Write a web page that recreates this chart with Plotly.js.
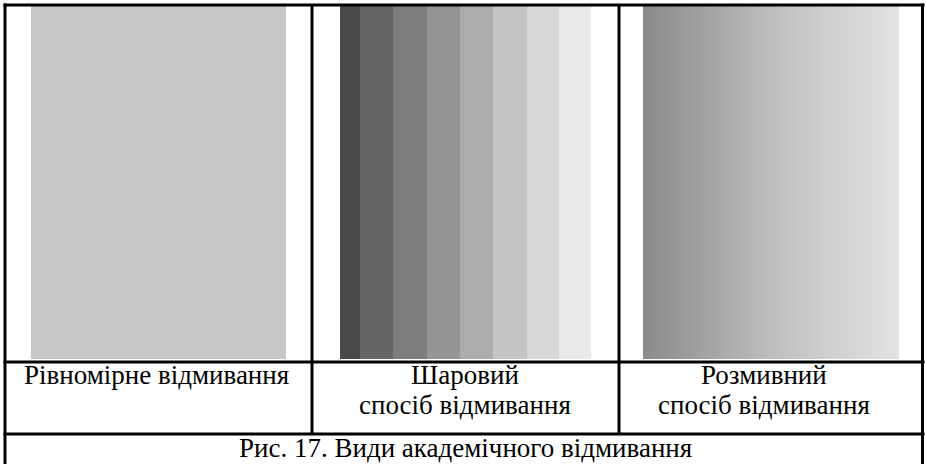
<!DOCTYPE html>
<html>
<head>
<meta charset="utf-8">
<script src="https://cdn.plot.ly/plotly-3.0.1.min.js"></script>
<style>html,body{margin:0;padding:0;background:#fff;}#chart{width:926px;height:464px;}</style>
</head>
<body>
<div id="chart"></div>
<script>
// ---- data ----
// panel titles (one entry per text line)
var panelLabels = [["Рівномірне відмивання"], ["Шаровий", "спосіб відмивання"], ["Розмивний", "спосіб відмивання"]];
var caption = "Рис. 17. Види академічного відмивання";
// uniform wash: one tone (grey level 0-255)
var uniformTone = [200];
// layered wash: tone of each layer, left (darkest) to right
var layerTones = [74, 101, 125, 148, 172, 196, 216, 233];
// layer boundaries (in layer units, first layer narrower)
var layerEdges = [0, 0.6, 1.6, 2.6, 3.6, 4.6, 5.6, 6.58, 7.53];
// graded wash: tone sampled at relative positions across the panel
var gradePos = [0, 0.22, 0.48, 0.74, 1];
var gradeTones = [139, 160, 188, 208, 226];

// ---- helpers (pixel -> paper) ----
var W = 926, H = 464;
function px(x){ return x / W; }
function py(y){ return 1 - y / H; }

var gray = [[0, 'rgb(0,0,0)'], [1, 'rgb(255,255,255)']];
function hm(extra){
  return Object.assign({type: 'heatmap', colorscale: gray, zmin: 0, zmax: 255, showscale: false, hoverinfo: 'skip', yaxis: 'y'}, extra);
}

var traces = [
  hm({z: [uniformTone], x: [0, 1], y: [0, 1], xaxis: 'x'}),
  hm({z: [layerTones], x: layerEdges, y: [0, 1], xaxis: 'x2'}),
  hm({z: [gradeTones, gradeTones], x: gradePos, y: [0, 1], zsmooth: 'best', xaxis: 'x3'})
];

function ax(dom, rng){
  return {domain: dom, range: rng, showgrid: false, zeroline: false, showticklabels: false, ticks: '', showline: false, fixedrange: true, anchor: 'y'};
}

var yTop = 6, yBot = 359;
var layout = {
  width: W, height: H,
  margin: {l: 0, r: 0, t: 0, b: 0},
  font: {family: 'Liberation Serif', size: 27, color: '#000000'},
  paper_bgcolor: '#ffffff', plot_bgcolor: 'rgba(0,0,0,0)',
  showlegend: false,
  xaxis: ax([px(31), px(286)], [0, 1]),
  xaxis2: ax([px(340), px(591)], [layerEdges[0], layerEdges[layerEdges.length-1]]),
  xaxis3: ax([px(643), px(899)], [0, 1]),
  yaxis: {domain: [py(yBot), py(yTop)], range: [0, 1], showgrid: false, zeroline: false, showticklabels: false, ticks: '', showline: false, fixedrange: true, anchor: 'x'},
  shapes: [],
  annotations: []
};

var lw = 3;
function hline(y, x0, x1){ layout.shapes.push({type: 'line', xref: 'paper', yref: 'paper', x0: px(x0), x1: px(x1), y0: py(y), y1: py(y), line: {color: '#000', width: lw}}); }
function vline(x, y0, y1){ layout.shapes.push({type: 'line', xref: 'paper', yref: 'paper', x0: px(x), x1: px(x), y0: py(y0), y1: py(y1), line: {color: '#000', width: lw}}); }

hline(5, 3.5, 924.5);
hline(362, 3.5, 924.5);
hline(434, 3.5, 924.5);
vline(5, 3.5, 470);
vline(922.5, 3.5, 470);
vline(312, 5, 434);
vline(619, 5, 434);

function mkFont(){ return {family: 'Liberation Serif', size: 27, color: '#000000'}; }
var cellCenters = [156.5, 465, 764];
panelLabels.forEach(function(lines, i){
  lines.forEach(function(t, j){
    layout.annotations.push({text: t, xref: 'paper', yref: 'paper', x: px(cellCenters[i]), y: py(375 + 30 * j), xanchor: 'center', yanchor: 'middle', showarrow: false, font: mkFont()});
  });
});
layout.annotations.push({text: caption, xref: 'paper', yref: 'paper', x: px(465), y: py(448), xanchor: 'center', yanchor: 'middle', showarrow: false, font: mkFont()});

Plotly.newPlot('chart', traces, layout, {staticPlot: true, displayModeBar: false});
</script>
</body>
</html>
